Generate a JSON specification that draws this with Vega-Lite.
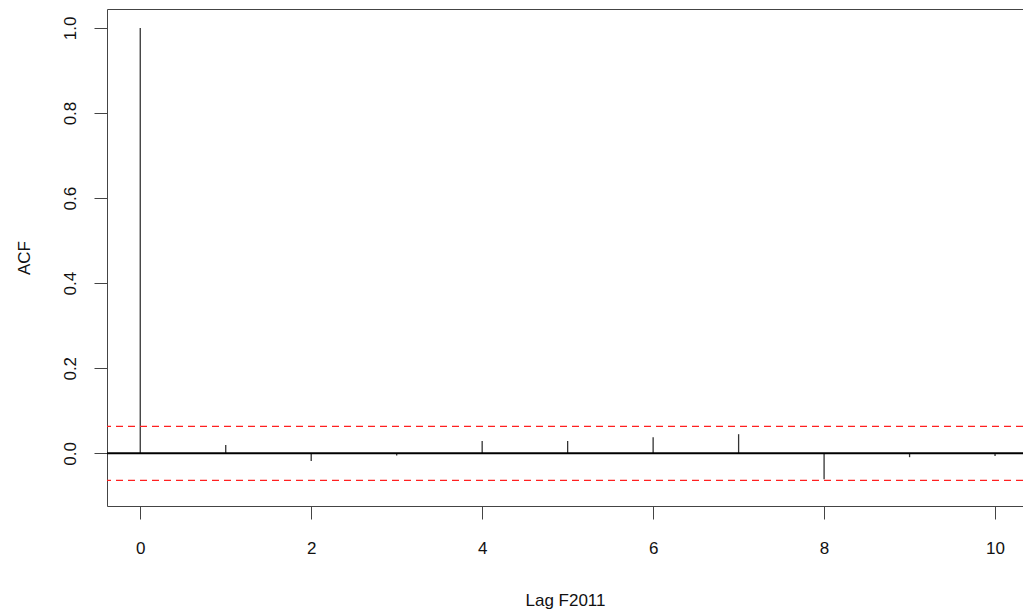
{
  "$schema": "https://vega.github.io/schema/vega-lite/v6.json",
  "autosize": {"type": "none"},
  "width": 916,
  "height": 497,
  "padding": {"left": 107, "top": 9, "right": 0, "bottom": 110},
  "background": "white",
  "config": {
    "view": {"stroke": null},
    "font": "Liberation Sans",
    "axis": {
      "labelFont": "Liberation Sans",
      "titleFont": "Liberation Sans",
      "labelFontSize": 17,
      "titleFontSize": 17,
      "titleFontWeight": "normal",
      "labelColor": "#111",
      "titleColor": "#111",
      "domainColor": "#444",
      "tickColor": "#444",
      "domainWidth": 1,
      "tickWidth": 1,
      "tickSize": 13,
      "grid": false
    }
  },
  "datasets": {
    "acf": [
      {"lag": 0, "acf": 1.0},
      {"lag": 1, "acf": 0.0195},
      {"lag": 2, "acf": -0.018},
      {"lag": 3, "acf": -0.005},
      {"lag": 4, "acf": 0.029},
      {"lag": 5, "acf": 0.029},
      {"lag": 6, "acf": 0.038},
      {"lag": 7, "acf": 0.045},
      {"lag": 8, "acf": -0.061},
      {"lag": 9, "acf": -0.009},
      {"lag": 10, "acf": -0.006}
    ],
    "ci": [
      {"ci": 0.0635},
      {"ci": -0.0635}
    ]
  },
  "layer": [
    {
      "data": {"name": "acf"},
      "mark": {"type": "rule", "color": "#333", "strokeWidth": 1.3},
      "encoding": {
        "x": {
          "field": "lag", "type": "quantitative",
          "scale": {"domain": [-0.389, 10.327], "nice": false, "zero": false},
          "axis": {"values": [0, 2, 4, 6, 8, 10], "title": "Lag F2011", "labelPadding": 21, "titlePadding": 36, "labelFlush": false, "format": "d"}
        },
        "y": {
          "field": "acf", "type": "quantitative",
          "scale": {"domain": [-0.1238, 1.0446], "nice": false, "zero": false},
          "axis": {"values": [0, 0.2, 0.4, 0.6, 0.8, 1.0], "format": ".1f", "title": "ACF", "labelAngle": 270, "labelAlign": "center", "labelBaseline": "bottom", "labelPadding": 15, "titlePadding": 28, "labelFlush": false}
        },
        "y2": {"datum": 0}
      }
    },
    {
      "data": {"name": "acf"},
      "mark": {"type": "rule", "opacity": 0},
      "encoding": {
        "x": {
          "field": "lag", "type": "quantitative",
          "axis": {"orient": "top", "labels": false, "ticks": false, "title": null, "domain": true}
        }
      }
    },
    {
      "data": {"values": [{"z": 0}]},
      "mark": {"type": "rule", "color": "black", "strokeWidth": 2},
      "encoding": {"y": {"field": "z", "type": "quantitative"}}
    },
    {
      "data": {"name": "ci"},
      "mark": {"type": "rule", "color": "#ff2020", "strokeWidth": 1.2, "strokeDash": [7, 5]},
      "encoding": {"y": {"field": "ci", "type": "quantitative"}}
    }
  ],
  "resolve": {"axis": {"x": "independent"}}
}
